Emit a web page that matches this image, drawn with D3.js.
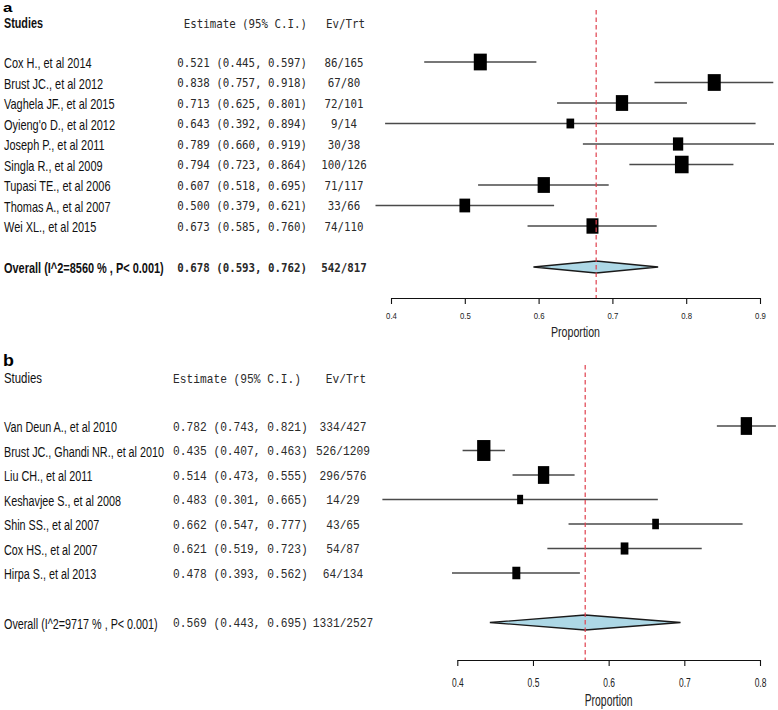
<!DOCTYPE html>
<html>
<head>
<meta charset="utf-8">
<script src="https://cdn.jsdelivr.net/npm/d3@7"></script>
<style>
  html, body { margin: 0; padding: 0; background: #fff; }
  svg { display: block; }
</style>
</head>
<body>
<svg id="chart" width="778" height="710"></svg>
<script>
// ---------------- DATA: panel a ----------------
const studiesA = ["Cox H., et al 2014", "Brust JC., et al 2012", "Vaghela JF., et al 2015",
  "Oyieng'o D., et al 2012", "Joseph P., et al 2011", "Singla R., et al 2009",
  "Tupasi TE., et al 2006", "Thomas A., et al 2007", "Wei XL., et al 2015"];
const estA   = [0.521, 0.838, 0.713, 0.643, 0.789, 0.794, 0.607, 0.500, 0.673];
const lowerA = [0.445, 0.757, 0.625, 0.392, 0.660, 0.723, 0.518, 0.379, 0.585];
const upperA = [0.597, 0.918, 0.801, 0.894, 0.919, 0.864, 0.695, 0.621, 0.760];
const eventsA = [86, 67, 72, 9, 30, 100, 71, 33, 74];
const totalsA = [165, 80, 101, 14, 38, 126, 117, 66, 110];
const weightsA = [12.4, 12.4, 11.7, 7.3, 9.8, 13.0, 11.7, 10.2, 11.4]; // relative study weights (%)
const overallLabelA = "Overall (I^2=8560 % , P< 0.001)";
const overallA = [0.678, 0.593, 0.762];   // estimate, lower, upper
const overallCountsA = [542, 817];
const ticksA = [0.4, 0.5, 0.6, 0.7, 0.8, 0.9];

// ---------------- DATA: panel b ----------------
const studiesB = ["Van Deun A., et al 2010", "Brust JC., Ghandi NR., et al 2010", "Liu CH., et al 2011",
  "Keshavjee S., et al 2008", "Shin SS., et al 2007", "Cox HS., et al 2007", "Hirpa S., et al 2013"];
const estB   = [0.782, 0.435, 0.514, 0.483, 0.662, 0.621, 0.478];
const lowerB = [0.743, 0.407, 0.473, 0.301, 0.547, 0.519, 0.393];
const upperB = [0.821, 0.463, 0.555, 0.665, 0.777, 0.723, 0.562];
const eventsB = [334, 526, 296, 14, 43, 54, 64];
const totalsB = [427, 1209, 576, 29, 65, 87, 134];
const weightsB = [17.6, 20.7, 17.6, 9.3, 10.4, 12.0, 12.4];
const overallLabelB = "Overall (I^2=9717 % , P< 0.001)";
const overallB = [0.569, 0.443, 0.695];
const overallCountsB = [1331, 2527];
const ticksB = [0.4, 0.5, 0.6, 0.7, 0.8];

// ---------------- LAYOUT ----------------
const svg = d3.select("#chart");
const f3 = d3.format(".3f");

const panels = [
  {
    tag: "a", tagY: 11.8, tagSize: 13, tagSx: 1.3,
    studies: studiesA, est: estA, lower: lowerA, upper: upperA, events: eventsA, totals: totalsA,
    weights: weightsA, overallLabel: overallLabelA, overall: overallA, overallCounts: overallCountsA,
    ticks: ticksA, domain: [0.4, 0.9], range: [391, 760],
    headerY: 28, firstRow: 62, lastRow: 226, overallY: 267, axisY: 298, dashTop: 10,
    boldHeader: true, boldOverall: true,
    nameSize: 15, nameSx: 0.73,
    mono: "'DejaVu Sans Mono', monospace", monoSize: 11.6, monoSx: 0.93,
    estAnchor: "end", estX: 307, headAnchor: "end", headX: 307, evX: 344, evHeadX: 345.5,
    boxW: 1.05, boxH: 1.35, diamondH: 6,
    tickSize: 9.5, tickSx: 0.82, tickBase: 318.5,
    labSize: 14, labSx: 0.76, labBase: 336.5
  },
  {
    tag: "b", tagY: 366, tagSize: 17, tagSx: 1.05,
    studies: studiesB, est: estB, lower: lowerB, upper: upperB, events: eventsB, totals: totalsB,
    weights: weightsB, overallLabel: overallLabelB, overall: overallB, overallCounts: overallCountsB,
    ticks: ticksB, domain: [0.4, 0.8], range: [457.3, 760],
    headerY: 383, firstRow: 426, lastRow: 573, overallY: 622.5, axisY: 660, dashTop: 365,
    boldHeader: false, boldOverall: false,
    nameSize: 15, nameSx: 0.72,
    mono: "'Liberation Mono', monospace", monoSize: 12.2, monoSx: 0.92,
    estAnchor: "start", estX: 173, headAnchor: "start", headX: 173, evX: 343, evHeadX: 346,
    boxW: 0.643, boxH: 1.01, diamondH: 7.5,
    tickSize: 13, tickSx: 0.65, tickBase: 686.5,
    labSize: 16, labSx: 0.65, labBase: 706
  }
];

function sqText(g, x, y, str, o) {
  return g.append("text")
    .attr("transform", `translate(${x},${y}) scale(${o.sx || 1},1)`)
    .attr("text-anchor", o.anchor || "start")
    .attr("font-family", o.family || "'Liberation Sans', Arial, sans-serif")
    .attr("font-size", o.size)
    .attr("font-weight", o.weight || "normal")
    .attr("fill", o.fill || "#111")
    .text(str);
}

panels.forEach(p => {
  const g = svg.append("g");
  const n = p.studies.length;
  const x = d3.scaleLinear().domain(p.domain).range(p.range);
  const y = d3.scaleLinear().domain([0, n - 1]).range([p.firstRow, p.lastRow]);
  const rows = d3.range(n);
  const monoOpt = (anchor, weight) => ({ size: p.monoSize, sx: p.monoSx, family: p.mono, anchor, weight, fill: "#2a2a2a" });

  // panel tag
  sqText(g, 3, p.tagY, p.tag, { size: p.tagSize, weight: "bold", sx: p.tagSx, fill: "#000" });

  // headers
  sqText(g, 4, p.headerY, "Studies", { size: 15, sx: p.boldHeader ? 0.72 : 0.76, weight: p.boldHeader ? "bold" : "normal" });
  sqText(g, p.headX, p.headerY, "Estimate (95% C.I.)", monoOpt(p.headAnchor));
  sqText(g, p.evHeadX, p.headerY, "Ev/Trt", monoOpt("middle"));

  // study rows text
  rows.forEach(i => {
    const ry = y(i);
    sqText(g, 4, ry + 6, p.studies[i], { size: p.nameSize, sx: p.nameSx });
    sqText(g, p.estX, ry + 4.5, `${f3(p.est[i])} (${f3(p.lower[i])}, ${f3(p.upper[i])})`, monoOpt(p.estAnchor));
    sqText(g, p.evX, ry + 4.5, `${p.events[i]}/${p.totals[i]}`, monoOpt("middle"));
  });

  // overall row text
  const ow = p.boldOverall ? "bold" : "normal";
  sqText(g, 4, p.overallY + 6, p.overallLabel, { size: p.nameSize, sx: p.nameSx, weight: ow });
  sqText(g, p.estX, p.overallY + 4.5, `${f3(p.overall[0])} (${f3(p.overall[1])}, ${f3(p.overall[2])})`, monoOpt(p.estAnchor, ow));
  sqText(g, p.evX, p.overallY + 4.5, `${p.overallCounts[0]}/${p.overallCounts[1]}`, monoOpt("middle", ow));

  // CI lines
  g.append("g").selectAll("line").data(rows).join("line")
    .attr("x1", i => x(p.lower[i])).attr("x2", i => x(p.upper[i]))
    .attr("y1", i => y(i)).attr("y2", i => y(i))
    .attr("stroke", "#4a4a4a").attr("stroke-width", 1.5);

  // boxes
  g.append("g").selectAll("rect").data(rows).join("rect")
    .attr("x", i => x(p.est[i]) - p.weights[i] * p.boxW / 2)
    .attr("y", i => y(i) - p.weights[i] * p.boxH / 2)
    .attr("width", i => p.weights[i] * p.boxW)
    .attr("height", i => p.weights[i] * p.boxH)
    .attr("fill", "#000");

  // diamond
  const [oe, ol, ou] = p.overall;
  const oy = p.overallY;
  g.append("path")
    .attr("d", d3.line()([[x(ol), oy], [x(oe), oy - p.diamondH], [x(ou), oy], [x(oe), oy + p.diamondH]]) + "Z")
    .attr("fill", "#add8e6").attr("stroke", "#1a1a1a").attr("stroke-width", 1.3);

  // dashed reference line at overall estimate
  g.append("line")
    .attr("x1", x(oe)).attr("x2", x(oe))
    .attr("y1", p.dashTop).attr("y2", p.axisY)
    .attr("stroke", "#e0404e").attr("stroke-width", 1.2).attr("stroke-dasharray", "4.5,3");

  // axis
  const ax = g.append("g").attr("transform", `translate(0,${p.axisY})`)
    .call(d3.axisBottom(x).tickValues(p.ticks).tickSize(6).tickSizeOuter(0).tickFormat(d3.format(".1f")));
  ax.select(".domain").attr("stroke", "#111").attr("stroke-width", 1.1);
  ax.selectAll(".tick line").attr("stroke", "#111").attr("stroke-width", 1.1);
  ax.selectAll(".tick text")
    .attr("y", null).attr("dy", null)
    .attr("transform", `translate(0,${p.tickBase - p.axisY}) scale(${p.tickSx},1)`)
    .attr("font-family", "'Liberation Sans', Arial, sans-serif")
    .attr("font-size", p.tickSize).attr("fill", "#222");

  // axis label
  sqText(g, (p.range[0] + p.range[1]) / 2, p.labBase, "Proportion",
    { size: p.labSize, sx: p.labSx, anchor: "middle", fill: "#222" });
});
</script>
</body>
</html>
